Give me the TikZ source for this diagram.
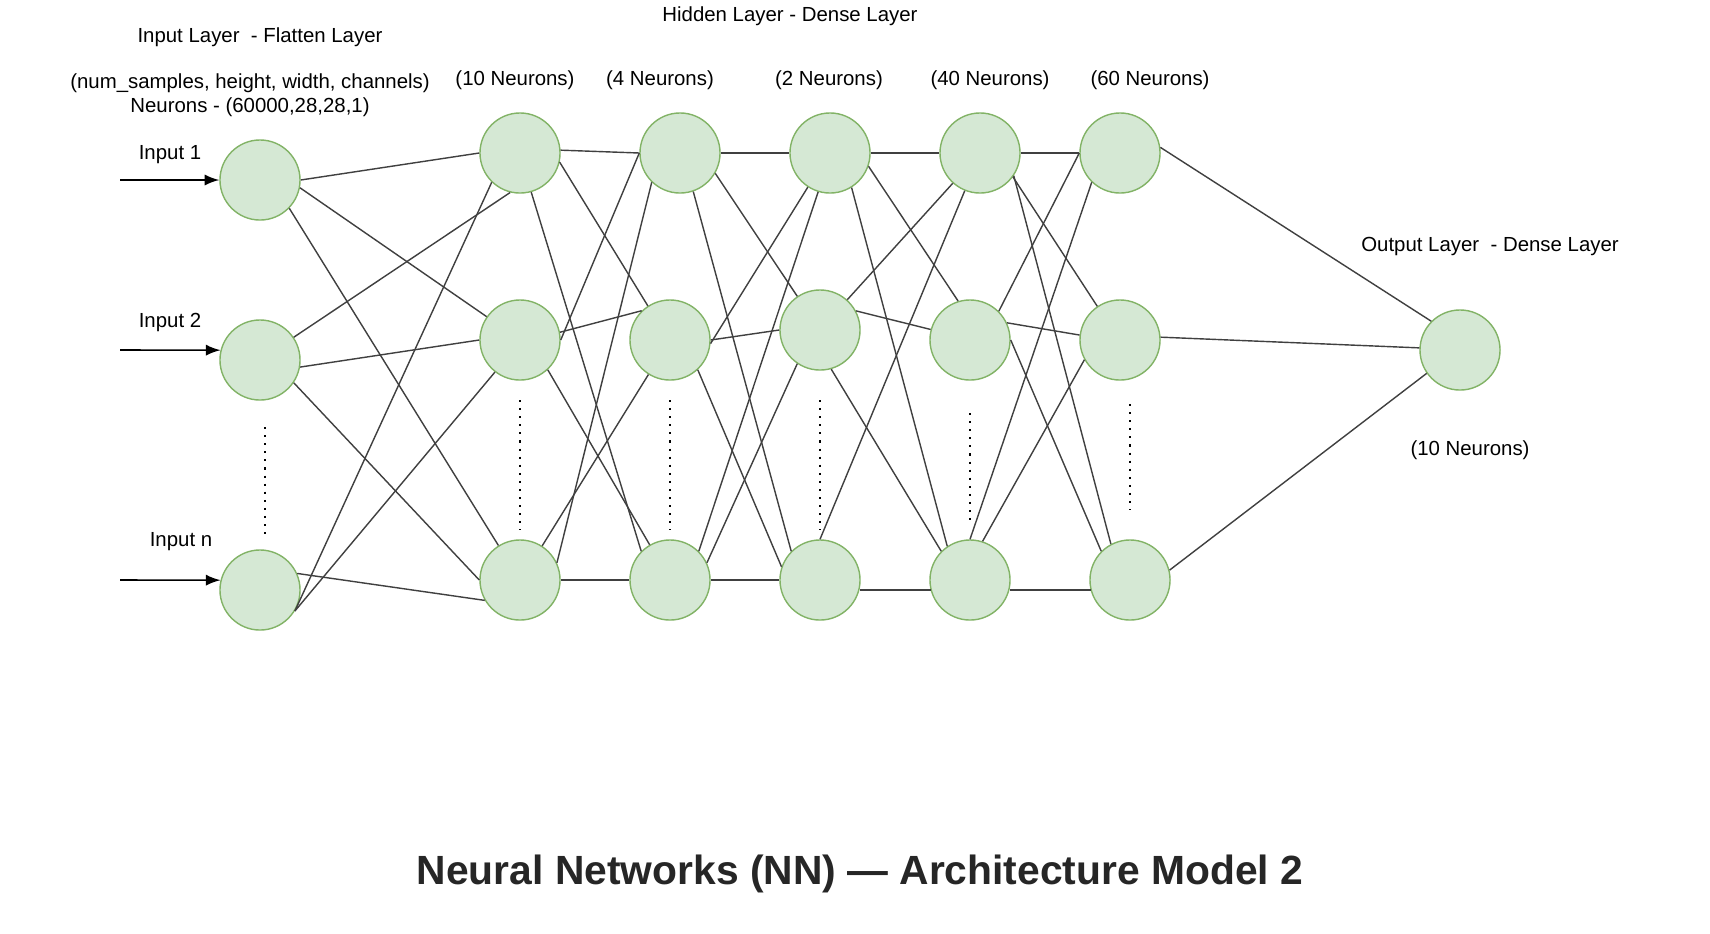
\documentclass[tikz,border=0pt]{standalone}
\usepackage{fontspec}
\setmainfont{Liberation Sans}
\usetikzlibrary{arrows}
\definecolor{nfill}{HTML}{D5E8D4}
\definecolor{nline}{HTML}{82B366}
\definecolor{ttl}{HTML}{262626}

\begin{document}
\begin{tikzpicture}[x=0.01cm, y=-0.01cm,
  neuron/.style={circle, draw=nline, fill=nfill, line width=0.4pt, minimum size=0.8cm, inner sep=0pt},
  lbl/.style={font=\fontsize{5.8}{6.8}\selectfont, align=center, inner sep=0pt},
  wire/.style={draw=black!75, line width=0.4pt},
  arrow/.style={-latex, line width=0.45pt},
  dots/.style={line width=0.6pt, dash pattern=on 0.6pt off 1.7pt}
]
\fill[white] (0,0) rectangle (1710,933);

% layer captions
\node[lbl] (capin) at (260,37) {Input Layer\ \ - Flatten Layer};
\node[lbl] (shape) at (250,95) {(num\_samples, height, width, channels)\\Neurons - (60000,28,28,1)};
\node[lbl] (caphid) at (790,16) {Hidden Layer - Dense Layer};
\node[lbl] (na) at (515,80) {(10 Neurons)};
\node[lbl] (nb) at (660,80) {(4 Neurons)};
\node[lbl] (nc) at (829,80) {(2 Neurons)};
\node[lbl] (nd) at (990,80) {(40 Neurons)};
\node[lbl] (ne) at (1150,80) {(60 Neurons)};
\node[lbl] (capout) at (1490,246) {Output Layer\ \ - Dense Layer};
\node[lbl] (no) at (1470,450) {(10 Neurons)};

% neurons
\node[neuron] (i1) at (260,180) {};
\node[neuron] (i2) at (260,360) {};
\node[neuron] (in) at (260,590) {};
\node[neuron] (a1) at (520,153) {};
\node[neuron] (a2) at (520,340) {};
\node[neuron] (a3) at (520,580) {};
\node[neuron] (b1) at (680,153) {};
\node[neuron] (b2) at (670,340) {};
\node[neuron] (b3) at (670,580) {};
\node[neuron] (c1) at (830,153) {};
\node[neuron] (c2) at (820,330) {};
\node[neuron] (c3) at (820,580) {};
\node[neuron] (d1) at (980,153) {};
\node[neuron] (d2) at (970,340) {};
\node[neuron] (d3) at (970,580) {};
\node[neuron] (e1) at (1120,153) {};
\node[neuron] (e2) at (1120,340) {};
\node[neuron] (e3) at (1130,580) {};
\node[neuron] (out) at (1460,350) {};

% inputs
\node[lbl] (lin1) at (170,155) {Input 1};
\node[lbl] (lin2) at (170,322) {Input 2};
\node[lbl] (linn) at (181,542) {Input n};
\coordinate (s1) at (120,180);
\coordinate (s2) at (120,350);
\coordinate (sn) at (120,580);
\draw[arrow] (s1) -- (i1.west);
\draw[arrow] (s2) -- (i2.166);
\draw[arrow] (sn) -- (in.166);

% input -> 10 neurons
\draw[wire] (i1.east) -- (a1.west);
\draw[wire] (i1.-11) -- (a2.145);
\draw[wire] (i1.-44) -- (a3.122);
\draw[wire] (i2.34) -- (a1.-104);
\draw[wire] (i2.-10) -- (a2.west);
\draw[wire] (i2.-34) -- (a3.west);
\draw[wire] (in.-31) -- (a1.-134);
\draw[wire] (in.-31) -- (a2.-128);
\draw[wire] (in.24) -- (a3.-150);

% 10 -> 4
\draw[wire] (a1.4) -- (b1.west);
\draw[wire] (a1.-13) -- (b2.123);
\draw[wire] (a1.-74) -- (b3.135);
\draw[wire] (a2.east) -- (b1.west);
\draw[wire] (a2.11) -- (b2.134);
\draw[wire] (a2.-47) -- (b3.120);
\draw[wire] (a3.25) -- (b1.-134);
\draw[wire] (a3.57) -- (b2.-122);
\draw[wire] (a3.east) -- (b3.west);

% 4 -> 2
\draw[wire] (b1.east) -- (c1.west);
\draw[wire] (b1.-30) -- (c2.124);
\draw[wire] (b1.-71) -- (c3.135);
\draw[wire] (b2.-5) -- (c1.-123);
\draw[wire] (b2.east) -- (c2.west);
\draw[wire] (b2.-47) -- (c3.161);
\draw[wire] (b3.45) -- (c1.-107);
\draw[wire] (b3.25) -- (c2.-124);
\draw[wire] (b3.east) -- (c3.west);

% 2 -> 40
\draw[wire] (c1.east) -- (d1.west);
\draw[wire] (c1.-19) -- (d2.107);
\draw[wire] (c1.-58) -- (d3.124);
\draw[wire] (c2.48) -- (d1.-132);
\draw[wire] (c2.28) -- (d2.165);
\draw[wire] (c2.-74) -- (d3.135);
\draw[wire] (c3.north) -- (d1.-112);
\draw[wire] (c3.-14) -- (d3.194);

% 40 -> 60
\draw[wire] (d1.east) -- (e1.west);
\draw[wire] (d1.-36) -- (e2.124);
\draw[wire] (d1.-34) -- (e3.118);
\draw[wire] (d2.45) -- (e1.west);
\draw[wire] (d2.25) -- (e2.173);
\draw[wire] (d2.east) -- (e3.135);
\draw[wire] (d3.north) -- (e1.-134);
\draw[wire] (d3.72) -- (e2.-151);
\draw[wire] (d3.-14) -- (e3.194);

% 60 -> output
\draw[wire] (e1.8) -- (out.135);
\draw[wire] (e2.4) -- (out.177);
\draw[wire] (e3.14) -- (out.-145);

% vertical ellipsis
\foreach \x/\ya/\yb in {265/427/540, 520/400/530, 670/400/530, 820/400/530, 970/413/520, 1130/404/510}
  {\draw[dots] (\x,\ya) -- (\x,\yb);}

% title
\node[font=\fontsize{11.6}{14}\selectfont\bfseries, text=ttl] (title) at (860,874) {Neural Networks (NN) — Architecture Model 2};

\end{tikzpicture}
\end{document}
